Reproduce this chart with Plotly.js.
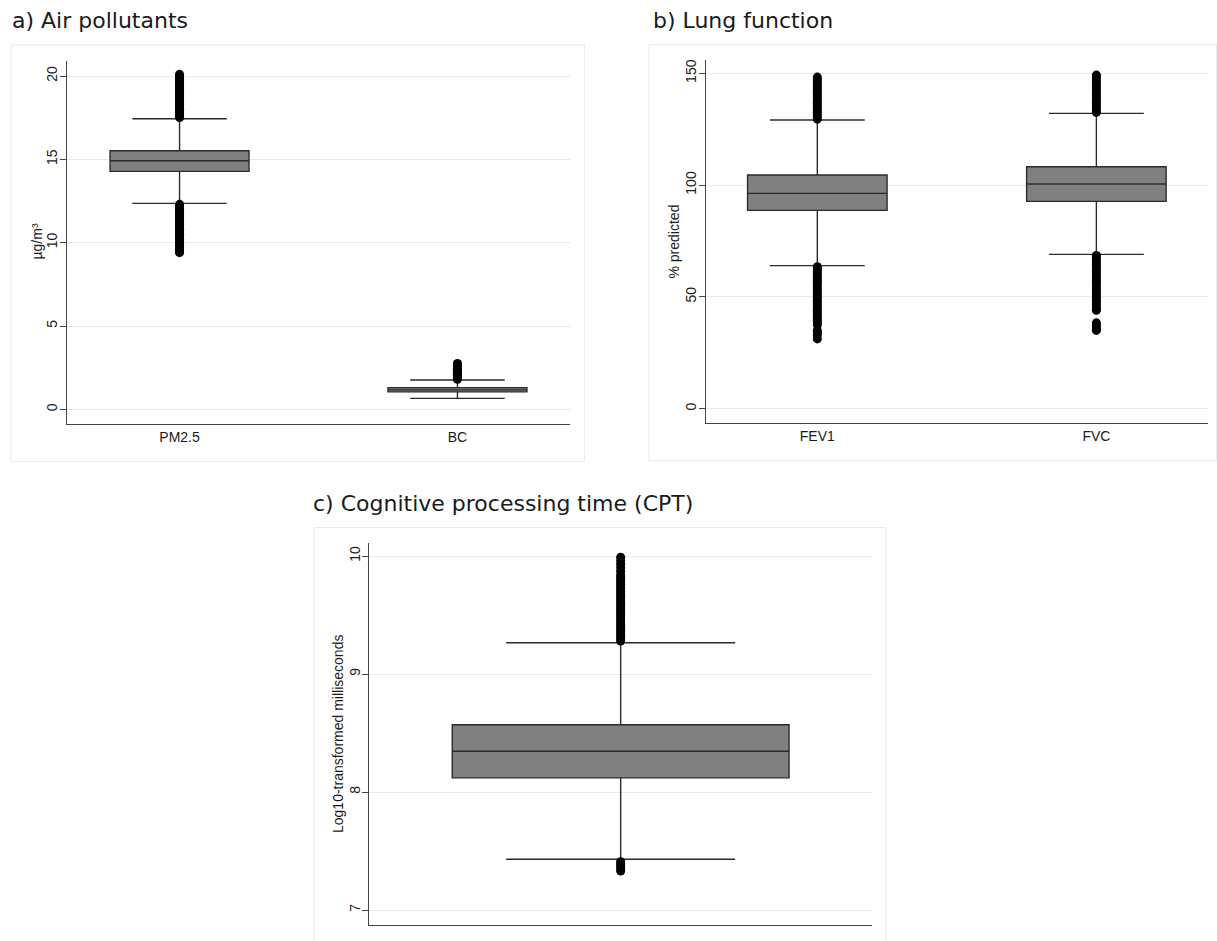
<!DOCTYPE html>
<html>
<head>
<meta charset="utf-8">
<script src="https://cdn.plot.ly/plotly-3.0.1.min.js"></script>
<style>
  html, body { margin: 0; padding: 0; background: #ffffff; }
  #chart { width: 1217px; height: 941px; }
</style>
</head>
<body>
<div id="chart"></div>
<script>
// ---------- DATA ----------
// Panel a) Air pollutants (µg/m³)
const pollutantCats = ["PM2.5", "BC"];
const pollutantQ1 = [14.28, 1.05];
const pollutantMedian = [14.92, 1.17];
const pollutantQ3 = [15.52, 1.30];
const pollutantLowerFence = [12.36, 0.66];
const pollutantUpperFence = [17.44, 1.76];
const pm25Outliers = [17.5, 17.6, 17.7, 17.8, 17.9, 18.0, 18.1, 18.2, 18.3, 18.4, 18.5, 18.6, 18.7, 18.8, 18.9, 19.0, 19.1, 19.2, 19.3, 19.4, 19.5, 19.6, 19.7, 19.8, 19.9, 20.0, 20.1,
                      12.3, 12.2, 12.1, 12.0, 11.9, 11.8, 11.7, 11.6, 11.5, 11.4, 11.3, 11.2, 11.1, 11.0, 10.9, 10.8, 10.7, 10.6, 10.5, 10.4, 10.3, 10.2, 10.1, 10.0, 9.9, 9.8, 9.7, 9.6, 9.5, 9.4];
const bcOutliers = [1.8, 1.85, 1.9, 1.95, 2.0, 2.05, 2.1, 2.15, 2.2, 2.25, 2.3, 2.35, 2.4, 2.45, 2.5, 2.55, 2.6, 2.65, 2.7, 2.75];

// Panel b) Lung function (% predicted)
const lungCats = ["FEV1", "FVC"];
const lungQ1 = [88.7, 92.7];
const lungMedian = [96.3, 100.5];
const lungQ3 = [104.5, 108.2];
const lungLowerFence = [64.0, 69.0];
const lungUpperFence = [129.1, 132.1];
const fev1Outliers = [129.5, 130.5, 131.5, 132.5, 133.5, 134.5, 135.5, 136.5, 137.5, 138.5, 139.5, 140.5, 141.5, 142.5, 143.5, 144.5, 145.5, 146.5, 147.5, 148.3,
                      63.5, 62.5, 61.5, 60.5, 59.5, 58.5, 57.5, 56.5, 55.5, 54.5, 53.5, 52.5, 51.5, 50.5, 49.5, 48.5, 47.5, 46.5, 45.5, 44.5, 43.5, 42.5, 41.5, 40.5, 39.5, 38.5, 37.5,
                      35.0, 34.0, 33.0, 31.2];
const fvcOutliers = [132.5, 133.5, 134.5, 135.5, 136.5, 137.5, 138.5, 139.5, 140.5, 141.5, 142.5, 143.5, 144.5, 145.5, 146.5, 147.5, 148.5, 149.2,
                     68.5, 67.5, 66.5, 65.5, 64.5, 63.5, 62.5, 61.5, 60.5, 59.5, 58.5, 57.5, 56.5, 55.5, 54.5, 53.5, 52.5, 51.5, 50.5, 49.5, 48.5, 47.5, 46.5, 45.5, 44.5, 44.0,
                     38.4, 37.5, 36.5, 35.5, 35.0];

// Panel c) Cognitive processing time (log10-transformed ms)
const cptCats = ["CPT"];
const cptQ1 = [8.12];
const cptMedian = [8.345];
const cptQ3 = [8.57];
const cptLowerFence = [7.43];
const cptUpperFence = [9.265];
const cptOutliers = [9.28, 9.30, 9.32, 9.34, 9.36, 9.38, 9.40, 9.42, 9.44, 9.46, 9.48, 9.50, 9.52, 9.54, 9.56, 9.58, 9.60, 9.62, 9.64, 9.66, 9.68, 9.70, 9.72, 9.74, 9.76, 9.78, 9.80, 9.82, 9.84, 9.87, 9.90, 9.93, 9.96, 9.99,
                     7.41, 7.39, 7.37, 7.35, 7.33];

// Axis ticks and titles
const pollutantTicks = [0, 5, 10, 15, 20];
const lungTicks = [0, 50, 100, 150];
const cptTicks = [7, 8, 9, 10];
const panelTitles = ["a) Air pollutants", "b) Lung function", "c) Cognitive processing time (CPT)"];
const yTitles = ["µg/m³", "% predicted", "Log10-transformed milliseconds"];

// ---------- STYLE ----------
const W = 1217, H = 941;
const px = v => v / W;
const py = v => 1 - v / H;
const boxFill = "#808080";
const boxLine = "#2b2b2b";
const gridCol = "#e3ebf2";
const frameCol = "#e6edf3";
const axisCol = "#444444";
const tickFont = { family: "Liberation Sans, Arial, sans-serif", size: 14, color: "#1a1a1a" };
const titleFont = { family: "DejaVu Sans, Verdana, sans-serif", size: 22, color: "#1a1a1a" };

function boxTrace(cats, q1, med, q3, lf, uf, xa, ya, width) {
  return {
    type: "box", x: cats, q1: q1, median: med, q3: q3, lowerfence: lf, upperfence: uf,
    xaxis: xa, yaxis: ya, width: width, whiskerwidth: 0.68,
    fillcolor: boxFill, line: { color: boxLine, width: 1.4 },
    boxpoints: false, hoverinfo: "skip", showlegend: false
  };
}
function outlierTrace(cat, vals, xa, ya) {
  return {
    type: "scatter", mode: "markers", x: vals.map(() => cat), y: vals,
    xaxis: xa, yaxis: ya, marker: { color: "#000000", size: 9 },
    hoverinfo: "skip", showlegend: false, cliponaxis: false
  };
}

const traces = [
  boxTrace(pollutantCats, pollutantQ1, pollutantMedian, pollutantQ3, pollutantLowerFence, pollutantUpperFence, "x", "y", 0.5),
  outlierTrace(pollutantCats[0], pm25Outliers, "x", "y"),
  outlierTrace(pollutantCats[1], bcOutliers, "x", "y"),
  boxTrace(lungCats, lungQ1, lungMedian, lungQ3, lungLowerFence, lungUpperFence, "x2", "y2", 0.5),
  outlierTrace(lungCats[0], fev1Outliers, "x2", "y2"),
  outlierTrace(lungCats[1], fvcOutliers, "x2", "y2"),
  boxTrace(cptCats, cptQ1, cptMedian, cptQ3, cptLowerFence, cptUpperFence, "x3", "y3", 0.67),
  outlierTrace(cptCats[0], cptOutliers, "x3", "y3")
];

function xAxis(domain, range, anchor, showLabels) {
  return {
    domain: domain, range: range, anchor: anchor, type: "category",
    showline: true, linecolor: axisCol, linewidth: 1,
    showgrid: false, zeroline: false, ticks: "", showticklabels: showLabels,
    tickfont: tickFont, fixedrange: true
  };
}
function yAxis(domain, range, anchor, ticks) {
  return {
    domain: domain, range: range, anchor: anchor,
    tickmode: "array", tickvals: ticks, ticktext: ticks.map(String),
    showline: true, linecolor: axisCol, linewidth: 1,
    ticks: "outside", ticklen: 6, tickcolor: axisCol, tickangle: -90,
    ticklabelstandoff: -3,
    showgrid: true, gridcolor: gridCol, gridwidth: 1, zeroline: false,
    tickfont: tickFont, fixedrange: true
  };
}
function yTitle(text, x, y) {
  return { text: text, xref: "paper", yref: "paper", x: px(x), y: py(y), xanchor: "center", yanchor: "middle",
           textangle: -90, showarrow: false, font: tickFont };
}
function panelTitle(text, x, y) {
  return { text: text, xref: "paper", yref: "paper", x: px(x), y: py(y), xanchor: "left", yanchor: "middle",
           showarrow: false, font: titleFont };
}

const layout = {
  width: W, height: H,
  margin: { l: 0, r: 0, t: 0, b: 0 },
  paper_bgcolor: "#ffffff", plot_bgcolor: "#ffffff",
  showlegend: false,
  xaxis: xAxis([px(67), px(570)], [-0.405, 1.405], "y", true),
  yaxis: yAxis([py(424), py(60.7)], [-0.88, 20.92], "x", pollutantTicks),
  xaxis2: xAxis([px(705.7), px(1208)], [-0.4, 1.4], "y2", true),
  yaxis2: yAxis([py(423.3), py(60)], [-6.53, 155.95], "x2", lungTicks),
  xaxis3: xAxis([px(369.3), px(872)], [-0.5, 0.5], "y3", false),
  yaxis3: yAxis([py(925), py(542.7)], [6.873, 10.113], "x3", cptTicks),
  shapes: [
    { type: "rect", xref: "paper", yref: "paper", x0: px(11), x1: px(584.5), y0: py(461.5), y1: py(45), line: { color: frameCol, width: 1 } },
    { type: "rect", xref: "paper", yref: "paper", x0: px(649), x1: px(1216.5), y0: py(460.5), y1: py(44.5), line: { color: frameCol, width: 1 } },
    { type: "rect", xref: "paper", yref: "paper", x0: px(314), x1: px(886), y0: py(945), y1: py(527.5), line: { color: frameCol, width: 1 } }
  ],
  annotations: [
    panelTitle(panelTitles[0], 10, 21),
    panelTitle(panelTitles[1], 650.5, 21),
    panelTitle(panelTitles[2], 310.5, 504),
    yTitle(yTitles[0], 36.5, 242),
    yTitle(yTitles[1], 673, 241.5),
    yTitle(yTitles[2], 338, 734)
  ]
};

Plotly.newPlot("chart", traces, layout, { staticPlot: true, displayModeBar: false });
</script>
</body>
</html>
